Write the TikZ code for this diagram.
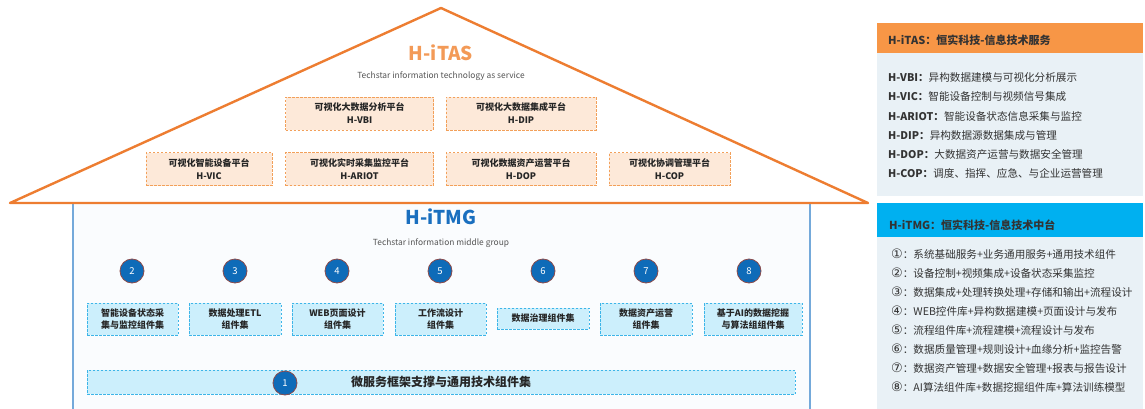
\documentclass[tikz,border=0pt]{standalone}
\usepackage{fontspec}
\setmainfont{Noto Sans CJK SC}
\newfontfamily\symfnt{DejaVu Sans}
\newcommand{\cnum}[1]{{\symfnt\fontsize{13}{13}\selectfont\raisebox{-0.6pt}{#1}}}
\definecolor{triorange}{HTML}{ED7D31}
\definecolor{hdrorange}{HTML}{F79646}
\definecolor{titorange}{HTML}{F39A57}
\definecolor{ofill}{HTML}{FDE9D9}
\definecolor{oedge}{HTML}{F2A05A}
\definecolor{bfill}{HTML}{CCEFFC}
\definecolor{bedge}{HTML}{3DB5E8}
\definecolor{numblue}{HTML}{0E6BB8}
\definecolor{numedge}{HTML}{8B4A4A}
\definecolor{hdrblue}{HTML}{00B0F0}
\definecolor{panelfill}{HTML}{E9F1F6}
\definecolor{wallblue}{HTML}{74A9DA}
\definecolor{housefill}{HTML}{FAFCFE}
\definecolor{titblue}{HTML}{1A6FBF}
\definecolor{txtdark}{HTML}{333333}
\definecolor{subgray}{HTML}{555555}
\tikzset{
  obox/.style={draw=oedge, fill=ofill, line width=0.8pt, dash pattern=on 2.5pt off 1.5pt,
    align=center, inner sep=0pt, minimum height=33pt,
    font=\bfseries\fontsize{9}{13}\selectfont, text=black!85},
  bbox/.style={draw=bedge, fill=bfill, line width=0.8pt, dash pattern=on 2.5pt off 1.5pt,
    align=center, inner sep=0pt, minimum height=32pt,
    font=\bfseries\fontsize{9}{12}\selectfont, text=black!85},
  numc/.style={circle, fill=numblue, draw=numedge, line width=0.8pt, minimum size=24pt,
    inner sep=0pt, text=white, font=\fontsize{9.5}{10}\selectfont},
  ptext/.style={anchor=west, inner sep=0pt, text=txtdark, font=\fontsize{10.6}{12}\selectfont},
  htext/.style={anchor=west, inner sep=0pt, text=txtdark, font=\bfseries\fontsize{11}{12}\selectfont},
  subt/.style={inner sep=0pt, text=subgray, font=\fontsize{8.4}{9}\selectfont},
}
\begin{document}
\begin{tikzpicture}[x=1pt,y=-1pt]
\useasboundingbox (0,0) rectangle (1145,409);
% house body
\fill[housefill] (73,203) rectangle (810,409);
\draw[wallblue, line width=1.6pt] (73,204) -- (73,409);
\draw[wallblue, line width=1.6pt] (810,204) -- (810,409);
% roof
\coordinate (tl) at (10,203);
\coordinate (tt) at (441,8);
\coordinate (tr) at (868,203);
\draw[triorange, line width=2.4pt, line join=round, fill=white] (tl) -- (tt) -- (tr) -- cycle;
% roof titles
\node[text=titorange, font=\bfseries\fontsize{19}{20}\selectfont, inner sep=0pt] (itas) at (441,53) {H-iTAS};
\node[subt] (itassub) at (441,76) {Techstar information technology as service};
% roof boxes
\node[obox, minimum width=148pt] (vbi) at (359.5,113.5) {可视化大数据分析平台\\H-VBI};
\node[obox, minimum width=150pt] (dip) at (521,113.5) {可视化大数据集成平台\\H-DIP};
\node[obox, minimum width=126pt] (vic) at (209,169) {可视化智能设备平台\\H-VIC};
\node[obox, minimum width=148pt] (ariot) at (359.5,169) {可视化实时采集监控平台\\H-ARIOT};
\node[obox, minimum width=150pt] (dop) at (521,169) {可视化数据资产运营平台\\H-DOP};
\node[obox, minimum width=121pt] (cop) at (669.5,169) {可视化协调管理平台\\H-COP};
% middle titles
\node[text=titblue, font=\bfseries\fontsize{19}{20}\selectfont, inner sep=0pt] (itmg) at (441,217) {H-iTMG};
\node[subt] (itmgsub) at (441,243) {Techstar information middle group};
% number circles
\node[numc] (n2) at (132,271) {2};
\node[numc] (n3) at (235,271) {3};
\node[numc] (n4) at (337,271) {4};
\node[numc] (n5) at (440,271) {5};
\node[numc] (n6) at (543,271) {6};
\node[numc] (n7) at (646,271) {7};
\node[numc] (n8) at (749,271) {8};
% component boxes
\node[bbox, minimum width=91pt] (c2) at (132.5,319) {智能设备状态采\\集与监控组件集};
\node[bbox, minimum width=92pt] (c3) at (235,319) {数据处理ETL\\组件集};
\node[bbox, minimum width=91pt] (c4) at (337.5,319) {WEB页面设计\\组件集};
\node[bbox, minimum width=91pt] (c5) at (440.5,319) {工作流设计\\组件集};
\node[bbox, minimum width=92pt, minimum height=21pt] (c6) at (543,318.5) {数据治理组件集};
\node[bbox, minimum width=92pt] (c7) at (646,319) {数据资产运营\\组件集};
\node[bbox, minimum width=98pt] (c8) at (753,319) {基于AI的数据挖掘\\与算法组组件集};
% base box
\node[bbox, minimum width=708pt, minimum height=24pt, font=\bfseries\fontsize{12}{13}\selectfont] (c1) at (441,382) {微服务框架支撑与通用技术组件集};
\node[numc] (n1) at (285,383) {1};
% right panel top
\fill[hdrorange] (877,23) rectangle (1143,53);
\fill[panelfill] (877,53) rectangle (1143,196);
\node[htext] (h1) at (888,40) {H-iTAS：恒实科技-信息技术服务};
\node[ptext] (p1) at (888,77) {\textbf{H-VBI：}异构数据建模与可视化分析展示};
\node[ptext] (p2) at (888,96.5) {\textbf{H-VIC：}智能设备控制与视频信号集成};
\node[ptext] (p3) at (888,116) {\textbf{H-ARIOT：}智能设备状态信息采集与监控};
\node[ptext] (p4) at (888,135) {\textbf{H-DIP：}异构数据源数据集成与管理};
\node[ptext] (p5) at (888,154) {\textbf{H-DOP：}大数据资产运营与数据安全管理};
\node[ptext] (p6) at (888,173) {\textbf{H-COP：}调度、指挥、应急、与企业运营管理};
% right panel bottom
\fill[hdrblue] (877,203) rectangle (1143,237);
\fill[panelfill] (877,237) rectangle (1143,409);
\node[htext] (h2) at (889,225) {H-iTMG：恒实科技-信息技术中台};
\node[ptext] (q1) at (891,254) {\cnum{①}：系统基础服务+业务通用服务+通用技术组件};
\node[ptext] (q2) at (891,273) {\cnum{②}：设备控制+视频集成+设备状态采集监控};
\node[ptext] (q3) at (891,292) {\cnum{③}：数据集成+处理转换处理+存储和输出+流程设计};
\node[ptext] (q4) at (891,311) {\cnum{④}：WEB控件库+异构数据建模+页面设计与发布};
\node[ptext] (q5) at (891,330) {\cnum{⑤}：流程组件库+流程建模+流程设计与发布};
\node[ptext] (q6) at (891,349) {\cnum{⑥}：数据质量管理+规则设计+血缘分析+监控告警};
\node[ptext] (q7) at (891,368) {\cnum{⑦}：数据资产管理+数据安全管理+报表与报告设计};
\node[ptext] (q8) at (891,387) {\cnum{⑧}：AI算法组件库+数据挖掘组件库+算法训练模型};
\end{tikzpicture}
\end{document}
